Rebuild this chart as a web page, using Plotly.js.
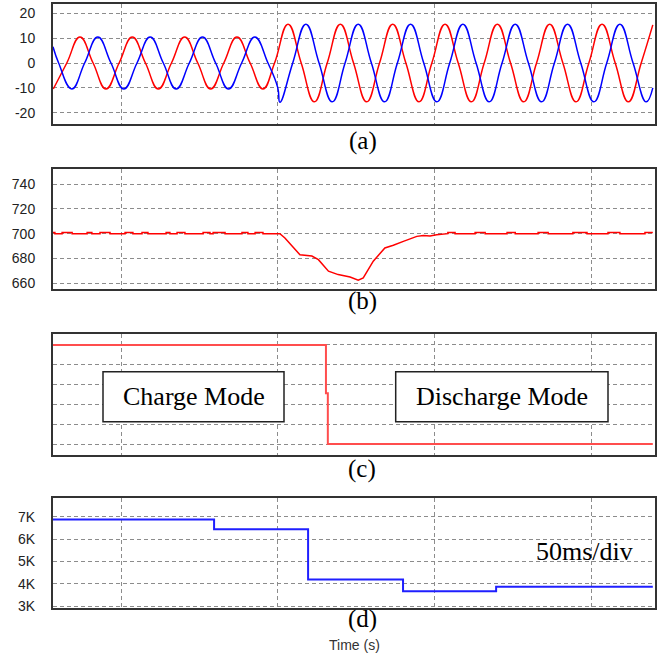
<!DOCTYPE html>
<html><head><meta charset="utf-8">
<script src="https://cdn.plot.ly/plotly-3.0.1.min.js"></script>
<style>html,body{margin:0;padding:0;background:#fff}#chart{width:672px;height:655px}</style>
</head><body><div id="chart"></div>
<script>
// ---------- Panel (a): phase waveforms (time in ms) ----------
const redTime = [78.4, 82.7, 86.9, 91.1, 95.2, 99.4, 103.6, 107.8, 111.9, 116.1, 120.3, 124.5, 128.6, 132.8, 137.0, 141.2, 145.3, 149.0, 153.3, 157.5, 161.7, 165.8, 170.0, 174.2, 178.4, 182.5, 186.7, 190.9, 195.1, 199.2, 203.4, 207.6, 211.8, 215.9, 220.1, 224.3, 228.5, 232.6, 236.8, 241.0, 245.2, 249.3, 253.5, 257.7, 261.9, 266.0, 269.7];
const redValue = [-10.4, 0, 10.4, 0, -10.4, 0, 10.4, 0, -10.4, 0, 10.4, 0, -10.4, 0, 10.4, 0, -10.4, 0, 15.6, 0, -15.6, 0, 15.6, 0, -15.6, 0, 15.6, 0, -15.6, 0, 15.6, 0, -15.6, 0, 15.6, 0, -15.6, 0, 15.6, 0, -15.6, 0, 15.6, 0, -15.6, 0, 15.3];
const blueTime = [78.3, 80.1, 84.3, 88.4, 92.6, 96.8, 100.9, 105.1, 109.3, 113.5, 117.6, 121.8, 126.0, 130.2, 134.3, 138.5, 142.7, 146.9, 150.0, 150.7, 154.8, 159.0, 163.2, 167.4, 171.5, 175.7, 179.9, 184.1, 188.2, 192.4, 196.6, 200.8, 204.9, 209.1, 213.3, 217.5, 221.6, 225.8, 230.0, 234.2, 238.3, 242.5, 246.7, 250.9, 255.0, 259.2, 263.4, 267.6, 269.7];
const blueValue = [6.5, 0, -10.4, 0, 10.4, 0, -10.4, 0, 10.4, 0, -10.4, 0, 10.4, 0, -10.4, 0, 10.4, 0, -9.8, -15.8, 0, 15.6, 0, -15.6, 0, 15.6, 0, -15.6, 0, 15.6, 0, -15.6, 0, 15.6, 0, -15.6, 0, 15.6, 0, -15.6, 0, 15.6, 0, -15.6, 0, 15.6, 0, -15.6, -10];

// ---------- Panel (b): DC voltage ----------
const vdcBaseline = 700;
const vdcRipple = 701;
const vdcStartTime = [78.3, 78.9];
const vdcBumpStart = [81.2, 89.2, 93.3, 101.3, 106.7, 114.4, 117.9, 126.2, 129.4, 138.6, 142.8];
const vdcBumpEnd   = [84.4, 90.7, 96.5, 103.8, 108.6, 115.6, 120.4, 128.4, 133.2, 140.5, 145.3];
const vdcDipTime  = [150.7, 152.3, 155.0, 157.1, 160.9, 163.0, 166.2, 169.3, 173.1, 175.7, 177.3, 180.5, 184.2, 186.9, 190.1, 194.4, 196.5, 198.6, 200.7, 202.8];
const vdcDipValue = [700, 696.5, 688.5, 683, 682, 679, 669.8, 667, 665, 662.5, 664.4, 677.8, 688.5, 690.6, 693.8, 697.8, 698.6, 698.1, 699.2, 699.8];
const vdcBump2Start = [204.3, 213.0, 223.2, 233.1, 244.2, 255.4];
const vdcBump2End   = [206.6, 216.2, 225.8, 236.3, 248.7, 259.2];
const vdcLastBump = [267.2, 269.7];

// ---------- Panel (c): operating mode ----------
const modeTime  = [78.3, 165.4, 165.4, 166.0, 166.0, 269.7];
const modeValue = [5, 5, 2.56, 2.56, 0, 0];

// ---------- Panel (d): stepped signal ----------
const stepTime  = [78.3, 129.7, 159.7, 190.0, 219.7, 269.7];
const stepValue = [6880, 6440, 4200, 3670, 3870, 3870];

// tick labels
const ticksA = [-20, -10, 0, 10, 20];
const ticksAText = ['-20', '-10', '0', '10', '20'];
const ticksB = [660, 680, 700, 720, 740];
const ticksC = [0, 1, 2, 3, 4, 5];
const ticksD = [3000, 4000, 5000, 6000, 7000];
const ticksDText = ['3K', '4K', '5K', '6K', '7K'];

// build panel (b) polyline from the read values
const vdcTime = [], vdcValue = [];
vdcTime.push(vdcStartTime[0], vdcStartTime[1], vdcStartTime[1]);
vdcValue.push(vdcRipple, vdcRipple, vdcBaseline);
function addBumps(s, e) {
  for (let i = 0; i < s.length; i++) {
    vdcTime.push(s[i], s[i], e[i], e[i]);
    vdcValue.push(vdcBaseline, vdcRipple, vdcRipple, vdcBaseline);
  }
}
addBumps(vdcBumpStart, vdcBumpEnd);
for (let i = 0; i < vdcDipTime.length; i++) { vdcTime.push(vdcDipTime[i]); vdcValue.push(vdcDipValue[i]); }
addBumps(vdcBump2Start, vdcBump2End);
vdcTime.push(vdcLastBump[0], vdcLastBump[0], vdcLastBump[1]);
vdcValue.push(vdcBaseline, vdcRipple, vdcRipple);

const W = 672, H = 655, ML = 53, MR = 17;
const px = x => (x - ML) / (W - ML - MR);
const py = y => (H - y) / H;

const traces = [
  {x: redTime, y: redValue, xaxis: 'x', yaxis: 'y', mode: 'lines', line: {color: '#ff0000', width: 1.5, shape: 'spline', smoothing: 1.3}},
  {x: blueTime, y: blueValue, xaxis: 'x', yaxis: 'y', mode: 'lines', line: {color: '#0000ff', width: 1.5, shape: 'spline', smoothing: 1.3}},
  {x: vdcTime, y: vdcValue, xaxis: 'x2', yaxis: 'y2', mode: 'lines', line: {color: '#ff0000', width: 1.5}},
  {x: modeTime, y: modeValue, xaxis: 'x3', yaxis: 'y3', mode: 'lines', line: {color: '#ff4d4d', width: 2}},
  {x: stepTime, y: stepValue, xaxis: 'x4', yaxis: 'y4', mode: 'lines', line: {color: '#1f1fff', width: 2, shape: 'hv'}}
];

const gridC = '#8c8c8c';
const tickFont = {family: 'Liberation Sans, Arial, sans-serif', size: 14, color: '#222'};
function xAx(anchor) {
  return {anchor: anchor, domain: [0, 1], range: [78.3, 270.4], tick0: 0, dtick: 50,
    showticklabels: false, ticks: '', showgrid: true, gridcolor: gridC, griddash: '4px,3px', gridwidth: 1,
    zeroline: false, showline: true, mirror: true, linecolor: '#333', linewidth: 2, fixedrange: true};
}
function yAx(anchor, domain, range, vals, text, show) {
  return {anchor: anchor, domain: domain, range: range, tickmode: 'array', tickvals: vals, ticktext: text,
    showticklabels: show, ticks: show ? 'outside' : '', ticklen: 13, tickcolor: 'rgba(0,0,0,0)',
    tickfont: tickFont, showgrid: true, gridcolor: gridC, griddash: '4px,3px', gridwidth: 1,
    zeroline: false, showline: true, mirror: true, linecolor: '#333', linewidth: 2, fixedrange: true};
}

const serif = 'Liberation Serif, Times New Roman, serif';
const ann = (x, y, text, size, family, color) => ({xref: 'paper', yref: 'paper', x: px(x), y: py(y), text: text,
  showarrow: false, xanchor: 'center', yanchor: 'middle', font: {family: family || serif, size: size, color: color || '#000'}});

const layout = {
  width: W, height: H, margin: {l: ML, r: MR, t: 0, b: 0}, showlegend: false,
  paper_bgcolor: '#fff', plot_bgcolor: '#fff',
  xaxis: xAx('y'), xaxis2: xAx('y2'), xaxis3: xAx('y3'), xaxis4: xAx('y4'),
  yaxis: yAx('x', [py(124), py(4)], [-24.5, 23.7], ticksA, ticksAText, true),
  yaxis2: yAx('x2', [py(289), py(169)], [655.4, 752.1], ticksB, ticksB.map(String), true),
  yaxis3: yAx('x3', [py(454.5), py(333.5)], [-0.53, 5.58], ticksC, ticksC.map(String), false),
  yaxis4: yAx('x4', [py(608.3), py(498.3)], [2905, 7830], ticksD, ticksDText, true),
  shapes: [
    {type: 'rect', xref: 'paper', yref: 'paper', x0: px(103), x1: px(284), y0: py(421.7), y1: py(371.7), line: {color: '#222', width: 1.5}, fillcolor: '#fff', layer: 'above'},
    {type: 'rect', xref: 'paper', yref: 'paper', x0: px(395.7), x1: px(608), y0: py(421.7), y1: py(371.7), line: {color: '#222', width: 1.5}, fillcolor: '#fff', layer: 'above'}
  ],
  annotations: [
    ann(362.5, 141, '(a)', 25),
    ann(362, 300.5, '(b)', 25),
    ann(362, 468.5, '(c)', 25),
    ann(362, 619, '(d)', 25),
    ann(193.5, 397, 'Charge Mode', 26),
    ann(502, 397, 'Discharge Mode', 26),
    ann(584, 551, '50ms/div', 26),
    ann(354, 645, 'Time (s)', 14, 'Liberation Sans, Arial, sans-serif', '#333')
  ]
};

Plotly.newPlot('chart', traces, layout, {displayModeBar: false, staticPlot: true});
</script></body></html>
